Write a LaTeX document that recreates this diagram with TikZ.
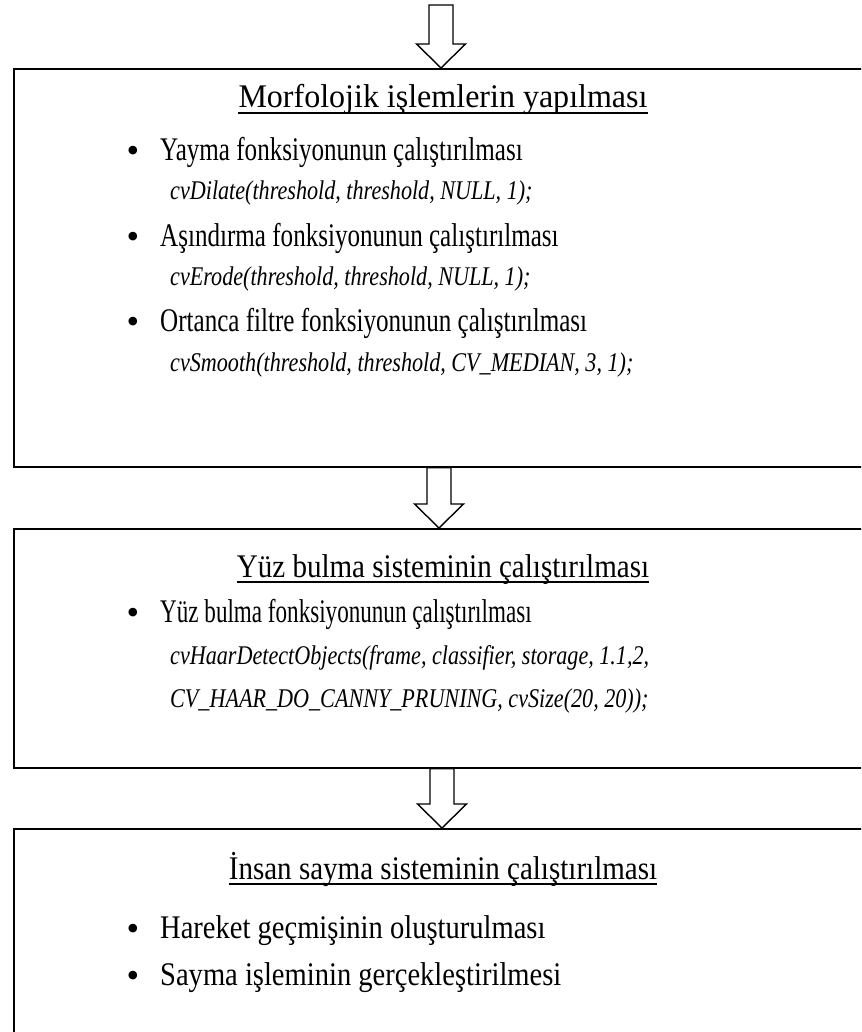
\documentclass[tikz,border=0pt]{standalone}
\usepackage{fontspec}
\setmainfont{Liberation Serif}
\newfontfamily\bodyfont[FakeStretch=0.76]{Liberation Serif}
\newfontfamily\narrowbodyfont[FakeStretch=0.70]{Liberation Serif}
\newfontfamily\widebodyfont[FakeStretch=0.865]{Liberation Serif}
\newfontfamily\codefont[FakeStretch=0.82]{Liberation Serif}
\newfontfamily\headfont[FakeStretch=0.88]{Liberation Serif}
\newfontfamily\wideheadfont[FakeStretch=0.97]{Liberation Serif}
\usetikzlibrary{positioning,calc}
\tikzset{
    stagebox/.style={draw, rectangle, line width=1.6pt, anchor=north west, inner sep=0pt},
    hollowarrow/.style={draw, line width=1.4pt, fill=white, line join=miter},
    underline/.style={line width=1.5pt}
}

\begin{document}
\begin{tikzpicture}[x=1pt, y=-1pt,
    title/.style={anchor=base, inner sep=0pt, font=\headfont\fontsize{33}{40}\selectfont},
    item/.style={anchor=base west, inner sep=0pt, font=\bodyfont\fontsize{33}{40}\selectfont},
    code/.style={anchor=base west, inner sep=0pt, font=\codefont\itshape\fontsize{27}{32}\selectfont},
    dot/.style={anchor=base, inner sep=0pt, font=\fontsize{36}{40}\selectfont}]

\useasboundingbox (0,0) rectangle (861,1032);
\clip (0,0) rectangle (861,1032);

% stages
\node [stagebox, minimum width=900pt, minimum height=398pt] (morf) at (13,68) {};
\node [stagebox, minimum width=900pt, minimum height=239pt] (yuz) at (13,528) {};
\node [stagebox, minimum width=900pt, minimum height=260pt] (insan) at (13,828) {};

% stage 1 text
\node [title, font=\wideheadfont\fontsize{33}{40}\selectfont] (morftitle) at (443,108) {Morfolojik işlemlerin yapılması};
\node [dot] (d1) at (133,163) {\textbullet};
\node [item] (yayma) at (160,161) {Yayma fonksiyonunun çalıştırılması};
\node [code] (dilate) at (170,200) {cvDilate(threshold, threshold, NULL, 1);};
\node [dot] (d2) at (133,248) {\textbullet};
\node [item] (asindir) at (160,246) {Aşındırma fonksiyonunun çalıştırılması};
\node [code] (erode) at (170,285) {cvErode(threshold, threshold, NULL, 1);};
\node [dot] (d3) at (133,333) {\textbullet};
\node [item] (ortanca) at (160,331) {Ortanca filtre fonksiyonunun çalıştırılması};
\node [code] (smooth) at (170,371) {cvSmooth(threshold, threshold, CV\_MEDIAN, 3, 1);};

% stage 2 text
\node [title] (yuztitle) at (443,577) {Yüz bulma sisteminin çalıştırılması};
\node [dot] (d4) at (133,624) {\textbullet};
\node [item, font=\narrowbodyfont\fontsize{33}{40}\selectfont] (yuzbul) at (160,622) {Yüz bulma fonksiyonunun çalıştırılması};
\node [code] (haar) at (170,664) {cvHaarDetectObjects(frame, classifier, storage, 1.1,2,};
\node [code] (haarb) at (170,707) {CV\_HAAR\_DO\_CANNY\_PRUNING, cvSize(20, 20));};

% stage 3 text
\node [title] (insantitle) at (443,879) {İnsan sayma sisteminin çalıştırılması};
\node [dot] (d5) at (133,940) {\textbullet};
\node [item, font=\widebodyfont\fontsize{33}{40}\selectfont] (hareket) at (160,938) {Hareket geçmişinin oluşturulması};
\node [dot] (d6) at (133,987) {\textbullet};
\node [item, font=\widebodyfont\fontsize{33}{40}\selectfont] (sayma) at (160,985) {Sayma işleminin gerçekleştirilmesi};

% underlined titles
\draw [underline] ([yshift=-5pt]morftitle.base west) -- ([yshift=-5pt]morftitle.base east);
\draw [underline] ([yshift=-5pt]yuztitle.base west) -- ([yshift=-5pt]yuztitle.base east);
\draw [underline] ([yshift=-5pt]insantitle.base west) -- ([yshift=-5pt]insantitle.base east);

% hollow arrows between stages
\coordinate (s1) at (441,5);
\coordinate (t1) at ([xshift=428pt]morf.north west);
\coordinate (s2) at ([xshift=426pt]morf.south west);
\coordinate (t2) at ([xshift=426pt]yuz.north west);
\coordinate (s3) at ([xshift=429pt]yuz.south west);
\coordinate (t3) at ([xshift=429pt]insan.north west);

\draw [hollowarrow] (t1) -- ($(t1)+(24.5,-24)$) -- ($(t1)+(12,-24)$) -- ($(s1)+(12,0)$)
    -- ($(s1)+(-12,0)$) -- ($(t1)+(-12,-24)$) -- ($(t1)+(-24.5,-24)$) -- cycle;
\draw [hollowarrow] (t2) -- ($(t2)+(24.5,-24)$) -- ($(t2)+(12,-24)$) -- ($(s2)+(12,0)$)
    -- ($(s2)+(-12,0)$) -- ($(t2)+(-12,-24)$) -- ($(t2)+(-24.5,-24)$) -- cycle;
\draw [hollowarrow] (t3) -- ($(t3)+(24.5,-24)$) -- ($(t3)+(12,-24)$) -- ($(s3)+(12,0)$)
    -- ($(s3)+(-12,0)$) -- ($(t3)+(-12,-24)$) -- ($(t3)+(-24.5,-24)$) -- cycle;

\end{tikzpicture}
\end{document}
